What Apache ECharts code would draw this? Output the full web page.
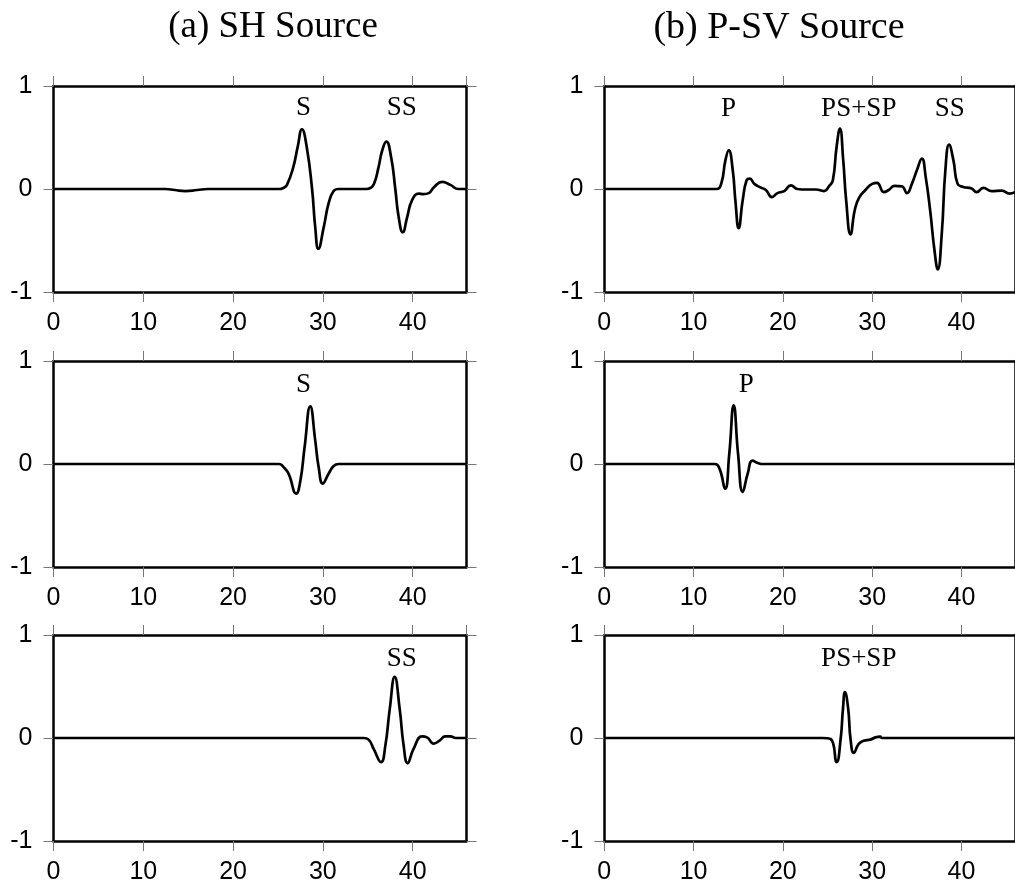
<!DOCTYPE html>
<html>
<head>
<meta charset="utf-8">
<script src="https://cdn.jsdelivr.net/npm/echarts@6/dist/echarts.min.js"></script>
<style>html,body{margin:0;padding:0;background:#fff;}#c{width:1015px;height:888px;}</style>
</head>
<body>
<div id="c"></div>
<script>
// ---- data (time in s, normalized amplitude) ----
var titles = ['(a) SH Source', '(b) P-SV Source'];
var xTicks = [0, 10, 20, 30, 40];
var yTicks = [-1, 0, 1];

var shTotal = [[0,0],[12.5,0],[13.5,-0.01],[14.7,-0.02],[16,-0.01],[17.2,0],[25.1,0],[25.6,0.01],[26.0,0.04],[26.7,0.21],[27.2,0.41],[27.67,0.58],[28.2,0.41],[28.8,0],[29.15,-0.37],[29.5,-0.58],[30.1,-0.37],[30.64,-0.14],[31.2,-0.02],[31.76,0],[34.9,0],[35.3,0.01],[35.7,0.05],[36.2,0.21],[36.6,0.37],[37.07,0.46],[37.6,0.31],[38.07,0],[38.44,-0.27],[38.9,-0.42],[39.4,-0.27],[39.93,-0.11],[40.7,-0.045],[41.2,-0.05],[41.8,-0.04],[42.4,0.02],[43.3,0.07],[44.2,0.04],[45.1,0],[46,0]];
var psvTotal = [[0,0],[12.53,0],[13.09,0.05],[13.57,0.28],[13.94,0.376],[14.39,0.18],[14.68,-0.11],[15.05,-0.38],[15.5,-0.11],[15.94,0.085],[16.3,0.1],[16.8,0.05],[17.55,0.013],[18.1,-0.01],[18.77,-0.078],[19.4,-0.04],[20.15,-0.02],[20.9,0.036],[21.64,0],[22.56,-0.005],[23.7,-0.005],[24.6,-0.02],[25.2,0.03],[25.6,0.085],[26.02,0.41],[26.39,0.586],[26.76,0.28],[27.09,-0.11],[27.58,-0.44],[28.05,-0.207],[28.5,-0.09],[29.25,-0.01],[30.0,0.05],[30.55,0.06],[31.3,-0.03],[31.85,-0.01],[32.5,0.03],[33.33,0.025],[33.9,-0.04],[34.45,0.05],[35.0,0.18],[35.57,0.295],[36.0,0.115],[36.5,-0.21],[36.98,-0.595],[37.35,-0.78],[37.8,-0.43],[38.2,0.18],[38.62,0.43],[39.1,0.28],[39.57,0.05],[40.2,0.02],[41.14,0.004],[41.7,-0.03],[42.45,0.01],[43.4,-0.02],[44.5,-0.015],[45.4,-0.045],[46,-0.03]];
var shS = [[0,0],[25.1,0],[25.62,-0.03],[26.18,-0.094],[27.03,-0.288],[27.5,-0.16],[27.97,0.165],[28.6,0.56],[29.15,0.23],[29.53,-0.03],[30.0,-0.19],[30.64,-0.094],[31.2,-0.02],[31.76,0],[46,0]];
var psvP = [[0,0],[12.34,0],[12.9,-0.045],[13.53,-0.24],[14.0,0.1],[14.49,0.57],[14.98,0.1],[15.5,-0.27],[16.06,-0.094],[16.6,0.032],[17.2,0.01],[17.74,0],[46,0]];
var shSS = [[0,0],[34.54,0],[35.1,-0.016],[35.66,-0.106],[36.48,-0.234],[36.96,-0.074],[37.45,0.28],[38.0,0.593],[38.56,0.28],[39.0,-0.074],[39.44,-0.244],[40.1,-0.106],[41.05,0.016],[41.6,0.006],[42.35,-0.054],[43.0,-0.026],[43.64,0.016],[44.2,0.016],[44.8,0],[46,0]];
var psvPS = [[0,0],[24.4,0],[25.35,-0.01],[26.02,-0.234],[26.47,-0.01],[26.73,0.28],[26.95,0.446],[27.32,0.28],[27.58,-0.01],[27.95,-0.144],[28.5,-0.058],[29.07,-0.026],[29.8,-0.016],[30.37,0.006],[30.9,0.013],[31.1,0],[46,0]];

// phase labels: [name, time, amplitude]
var labelsA1 = [['S',27.85,0.79],['SS',38.8,0.79]];
var labelsB1 = [['P',13.9,0.78],['PS+SP',28.5,0.78],['SS',38.7,0.78]];
var labelsA2 = [['S',27.85,0.77]];
var labelsB2 = [['P',15.9,0.77]];
var labelsA3 = [['SS',38.8,0.77]];
var labelsB3 = [['PS+SP',28.5,0.77]];

var panels = [
  {trace: shTotal, labels: labelsA1, col: 0, row: 0},
  {trace: psvTotal, labels: labelsB1, col: 1, row: 0},
  {trace: shS, labels: labelsA2, col: 0, row: 1},
  {trace: psvP, labels: labelsB2, col: 1, row: 1},
  {trace: shSS, labels: labelsA3, col: 0, row: 2},
  {trace: psvPS, labels: labelsB3, col: 1, row: 2}
];

// ---- layout ----
var colLeft = [53.5, 604.3];
var rowTop = [86, 361, 635];
var gw = 413, gh = 206;

var grids = [], xAxes = [], yAxes = [], series = [];
var tickStyle = {show: true, inside: false, length: 10, lineStyle: {color: '#777', width: 1}};
var lineStyle = {show: true, onZero: false, lineStyle: {color: '#000', width: 2.5}};
var labelFont = {fontFamily: 'Liberation Sans', fontSize: 25, color: '#000'};

panels.forEach(function (p, g) {
  grids.push({left: colLeft[p.col], top: rowTop[p.row], width: gw, height: gh});
  ['bottom', 'top'].forEach(function (pos) {
    xAxes.push({
      gridIndex: g, type: 'value', position: pos, min: 0, max: 46, interval: 10,
      axisLine: lineStyle, axisTick: tickStyle, splitLine: {show: false},
      axisLabel: Object.assign({show: pos === 'bottom', margin: 19, showMaxLabel: false,
        formatter: function (v) { return xTicks.indexOf(v) >= 0 ? String(v) : ''; }}, labelFont)
    });
  });
  ['left', 'right'].forEach(function (pos) {
    yAxes.push({
      gridIndex: g, type: 'value', position: pos, min: -1, max: 1, interval: 1,
      axisLine: lineStyle, axisTick: tickStyle, splitLine: {show: false},
      axisLabel: Object.assign({show: pos === 'left', margin: 21,
        formatter: function (v) { return yTicks.indexOf(v) >= 0 ? String(v) : ''; }}, labelFont)
    });
  });
  series.push({
    type: 'line', xAxisIndex: 2 * g, yAxisIndex: 2 * g, data: p.trace,
    showSymbol: false, smooth: 0.5,
    lineStyle: {color: '#000', width: 2.7}, silent: true, z: 3
  });
  series.push({
    type: 'scatter', xAxisIndex: 2 * g, yAxisIndex: 2 * g, symbolSize: 0, silent: true,
    itemStyle: {opacity: 1, color: '#000'},
    data: p.labels.map(function (l) { return {name: l[0], value: [l[1], l[2]]}; }),
    label: {show: true, position: 'inside', formatter: '{b}', color: '#000', opacity: 1,
      fontFamily: 'Liberation Serif', fontSize: 27}, z: 4
  });
});

var chart = echarts.init(document.getElementById('c'), null, {renderer: 'canvas'});
chart.setOption({
  animation: false,
  backgroundColor: '#fff',
  title: [
    {text: titles[0], left: 268, top: 4, textAlign: 'center',
      textStyle: {fontFamily: 'Liberation Serif', fontSize: 37, fontWeight: 'normal', color: '#000'}},
    {text: titles[1], left: 774, top: 4, textAlign: 'center',
      textStyle: {fontFamily: 'Liberation Serif', fontSize: 38, fontWeight: 'normal', color: '#000'}}
  ],
  grid: grids,
  xAxis: xAxes,
  yAxis: yAxes,
  series: series
});
</script>
</body>
</html>
